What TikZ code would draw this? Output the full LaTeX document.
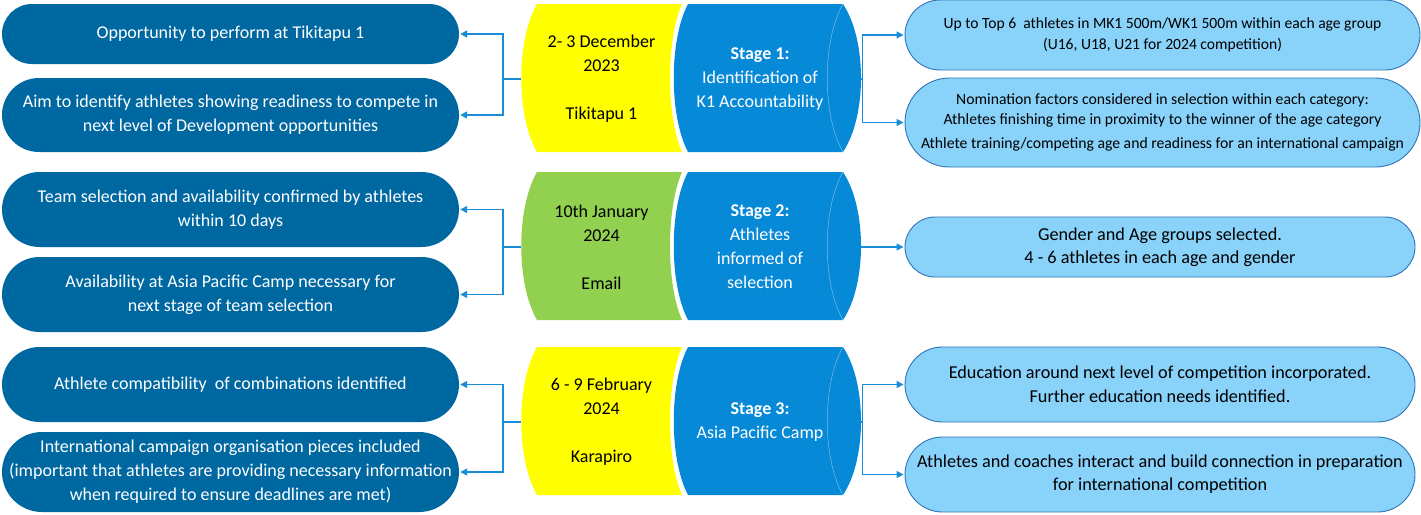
\documentclass[tikz,border=0pt]{standalone}
\usepackage{fontspec}
\setmainfont{Carlito}
\usetikzlibrary{arrows.meta}
\definecolor{leftblue}{HTML}{0068A1}
\definecolor{stageblue}{HTML}{0689D7}
\definecolor{rightfill}{HTML}{89D2FA}
\definecolor{rightdraw}{HTML}{2E75B6}
\definecolor{connblue}{HTML}{1A8DD8}
\definecolor{dategreen}{HTML}{92D050}
\definecolor{dateyellow}{HTML}{FFFF00}
\begin{document}
\begin{tikzpicture}[x=1pt,y=-1pt,
  lbox/.style={rectangle, fill=leftblue, text=white, align=center, inner sep=0pt,
    minimum width=457pt, font=\fontsize{18}{24}\selectfont},
  rbox/.style={rectangle, fill=rightfill, draw=rightdraw, line width=0.9pt, text=black,
    align=center, inner sep=0pt},
  datenode/.style={rectangle, inner sep=0pt, align=center, text=black,
    minimum width=161pt, minimum height=148pt, font=\fontsize{18}{24}\selectfont},
  stagenode/.style={rectangle, inner sep=0pt, align=center, text=white,
    minimum width=202pt, minimum height=148pt, font=\fontsize{18}{24}\selectfont},
  conn/.style={draw=connblue, line width=1.4pt, -{Triangle[length=7pt,width=7pt]}, shorten >=1pt},
  stem/.style={draw=connblue, line width=1.4pt}]
\useasboundingbox (0,0) rectangle (1421,514);

% central shapes
\foreach \T/\col in {4/dateyellow, 172/dategreen, 347/dateyellow}{
  \fill[\col] (537,\T) -- (682,\T) .. controls (666,\T+36) and (666,\T+112) .. (682,\T+148)
     -- (537,\T+148) .. controls (516,\T+112) and (516,\T+36) .. (537,\T) -- cycle;
  \fill[stageblue] (688,\T) -- (843,\T) .. controls (867,\T+36) and (867,\T+112) .. (843,\T+148)
     -- (688,\T+148) .. controls (669,\T+112) and (669,\T+36) .. (688,\T) -- cycle;
  \draw[white, opacity=0.45, line width=0.5pt] (843,\T) .. controls (822,\T+36) and (822,\T+112) .. (843,\T+148);
}

% date nodes
\node[datenode] (d1) at (601.5,79) {2- 3 December\\2023\\[24pt]Tikitapu 1};
\node[datenode] (d2) at (601.5,247) {10th January\\2024\\[24pt]Email};
\node[datenode] (d3) at (601.5,422) {6 - 9 February\\2024\\[24pt]Karapiro};

% stage nodes
\node[stagenode] (s1) at (760,79) {\textbf{Stage 1:}\\Identification of\\K1 Accountability};
\node[stagenode] (s2) at (760,247) {\textbf{Stage 2:}\\Athletes\\informed of\\selection};
\node[stagenode] (s3) at (760,422) {\textbf{Stage 3:}\\Asia Pacific Camp};

% left boxes
\node[lbox, minimum height=60pt, rounded corners=30pt] (l1) at (230.5,34) {Opportunity to perform at Tikitapu 1};
\node[lbox, minimum height=74pt, rounded corners=37pt] (l2) at (230.5,115) {Aim to identify athletes showing readiness to compete in\\next level of Development opportunities};
\node[lbox, minimum height=75pt, rounded corners=37.5pt] (l3) at (230.5,209.5) {Team selection and availability confirmed by athletes\\within 10 days};
\node[lbox, minimum height=75pt, rounded corners=37.5pt] (l4) at (230.5,294.5) {Availability at Asia Pacific Camp necessary for\\next stage of team selection};
\node[lbox, minimum height=75pt, rounded corners=37.5pt] (l5) at (230.5,384.5) {Athlete compatibility\ \ of combinations identified};
\node[lbox, minimum height=80pt, rounded corners=40pt] (l6) at (230.5,472) {International campaign organisation pieces included\\(important that athletes are providing necessary information\\when required to ensure deadlines are met)};

% right boxes
\node[rbox, minimum width=515pt, minimum height=70pt, rounded corners=35pt, font=\fontsize{15.6}{21}\selectfont] (r1) at (1162.5,35)
  {Up to Top 6\ \ athletes in MK1 500m/WK1 500m within each age group\\(U16, U18, U21 for 2024 competition)};
\node[rbox, minimum width=515pt, minimum height=89pt, rounded corners=44.5pt, font=\fontsize{15.7}{20}\selectfont] (r2) at (1162.5,122.5)
  {Nomination factors considered in selection within each category:\\Athletes finishing time in proximity to the winner of the age category\\[4pt]Athlete training/competing age and readiness for an international campaign};
\node[rbox, minimum width=510pt, minimum height=60pt, rounded corners=30pt, font=\fontsize{18.2}{23}\selectfont] (r3) at (1160,247)
  {Gender and Age groups selected.\\4 - 6 athletes in each age and gender};
\node[rbox, minimum width=510pt, minimum height=75pt, rounded corners=37.5pt, font=\fontsize{18.2}{24}\selectfont] (r4) at (1160,384.5)
  {Education around next level of competition incorporated.\\Further education needs identified.};
\node[rbox, minimum width=510pt, minimum height=75pt, rounded corners=37.5pt, font=\fontsize{18.2}{23}\selectfont] (r5) at (1160,474.5)
  {Athletes and coaches interact and build connection in preparation\\for international competition};

% left connectors
\foreach \d/\a/\b in {d1/l1/l2, d2/l3/l4, d3/l5/l6}{
  \draw[stem] (\d.west) -- ++(-18,0) coordinate (j\d);
  \draw[conn] (j\d) |- (\a.east);
  \draw[conn] (j\d) |- (\b.east);
}
% right connectors
\draw[stem] (s1.east) -- ++(1,0) coordinate (js1);
\draw[conn] (js1) |- (r1.west);
\draw[conn] (js1) |- (r2.west);
\draw[conn] (s2.east) -- (r3.west);
\draw[stem] (s3.east) -- ++(1,0) coordinate (js3);
\draw[conn] (js3) |- (r4.west);
\draw[conn] (js3) |- (r5.west);
\end{tikzpicture}
\end{document}
